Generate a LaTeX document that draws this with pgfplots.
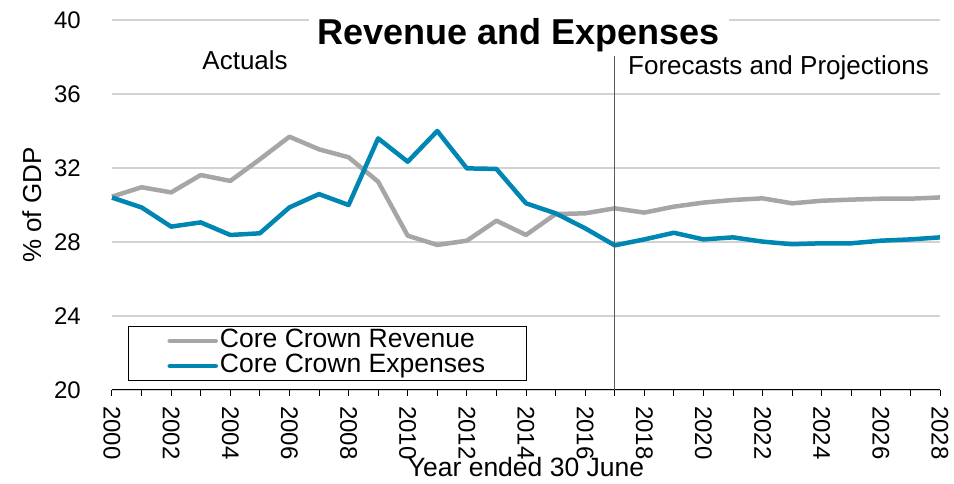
\documentclass[border=0pt]{standalone}
\usepackage{fontspec}
\setmainfont{Liberation Sans}
\usepackage{pgfplots}
\pgfplotsset{compat=1.18}

\definecolor{revgray}{RGB}{166,166,166}
\definecolor{expblue}{RGB}{0,134,178}
\definecolor{gridgray}{RGB}{210,210,210}

\begin{document}
\begin{tikzpicture}[x=1pt,y=1pt]
% page = 954 x 484, axis box at (0,0)-(828,370)
\path[use as bounding box] (-112,-94) rectangle (842,390);
\begin{axis}[
    at={(0,0)}, anchor=south west,
    scale only axis,
    width=828pt, height=370pt,
    xmin=2000, xmax=2028,
    ymin=20, ymax=40,
    clip=false,
    axis x line*=bottom,
    axis y line*=left,
    y axis line style={draw=none},
    x axis line style={-, line width=1pt, black},
    xtick={2000,2002,...,2028},
    minor xtick={2001,2003,...,2027},
    tick align=outside,
    major tick length=6pt, minor tick length=6pt,
    x tick style={black, line width=1pt},
    minor x tick style={black, line width=1pt},
    ytick={20,24,...,40},
    y tick style={draw=none},
    ymajorgrids,
    grid style={gridgray, line width=1.3pt},
    /pgf/number format/assume math mode=true,
    /pgf/number format/1000 sep={},
    x tick label style={rotate=-90, anchor=west, inner sep=0pt, xshift=10pt,
        font=\fontsize{24}{28}\selectfont},
    y tick label style={anchor=east, inner sep=0pt, xshift=-25pt,
        font=\fontsize{24}{28}\selectfont},
    ylabel={\% of GDP},
    ylabel style={font=\fontsize{26}{30}\selectfont, at={(-67pt,0.5)}, anchor=south, rotate=0},
    xlabel={Year ended 30 June},
    xlabel style={font=\fontsize{26.5}{30}\selectfont, at={(0.5,-87pt)}, anchor=base, inner sep=0pt},
    legend style={at={(16pt,9pt)}, anchor=south west, draw=black, line width=1pt,
        inner xsep=39pt, inner ysep=2pt,
        font=\fontsize{26.5}{31}\selectfont,
        nodes={inner xsep=2pt, inner ysep=0pt, text height=19pt, text depth=6pt}},
    legend cell align=left,
    legend image code/.code={\draw[#1, line cap=round] (0pt,0pt) -- (46pt,0pt);},
]
\addplot[revgray, line width=4.5pt, line join=round] coordinates {
(2000,30.45) (2001,30.96) (2002,30.68) (2003,31.62) (2004,31.30)
(2005,32.47) (2006,33.69) (2007,33.01) (2008,32.58) (2009,31.26)
(2010,28.34) (2011,27.84) (2012,28.07) (2013,29.15) (2014,28.38)
(2015,29.51) (2016,29.55) (2017,29.82) (2018,29.59) (2019,29.91)
(2020,30.13) (2021,30.27) (2022,30.36) (2023,30.09) (2024,30.23)
(2025,30.29) (2026,30.34) (2027,30.34) (2028,30.41)};
\addlegendentry{Core Crown Revenue}
\addplot[expblue, line width=4.5pt, line join=round] coordinates {
(2000,30.40) (2001,29.87) (2002,28.83) (2003,29.06) (2004,28.38)
(2005,28.47) (2006,29.87) (2007,30.59) (2008,30.00) (2009,33.60)
(2010,32.34) (2011,34.00) (2012,31.98) (2013,31.95) (2014,30.09)
(2015,29.55) (2016,28.74) (2017,27.82) (2018,28.14) (2019,28.50)
(2020,28.14) (2021,28.25) (2022,28.02) (2023,27.88) (2024,27.93)
(2025,27.93) (2026,28.07) (2027,28.14) (2028,28.25)};
\addlegendentry{Core Crown Expenses}
\addplot[forget plot, black!65, line width=1pt] coordinates {(2017,20) (2017,38.1)};
\node[anchor=base, font=\fontsize{26}{30}\selectfont, inner sep=0pt]
    at (axis cs:2004.5,37.3) {Actuals};
\node[anchor=base west, font=\fontsize{26}{30}\selectfont, inner sep=0pt]
    at (axis cs:2017.45,37.08) {Forecasts and Projections};
\node[anchor=base, font=\bfseries\fontsize{36}{40}\selectfont, fill=white,
    inner xsep=9pt, inner ysep=4pt]
    at (axis cs:2013.75,38.65) {Revenue and Expenses};
\end{axis}
\end{tikzpicture}
\end{document}
